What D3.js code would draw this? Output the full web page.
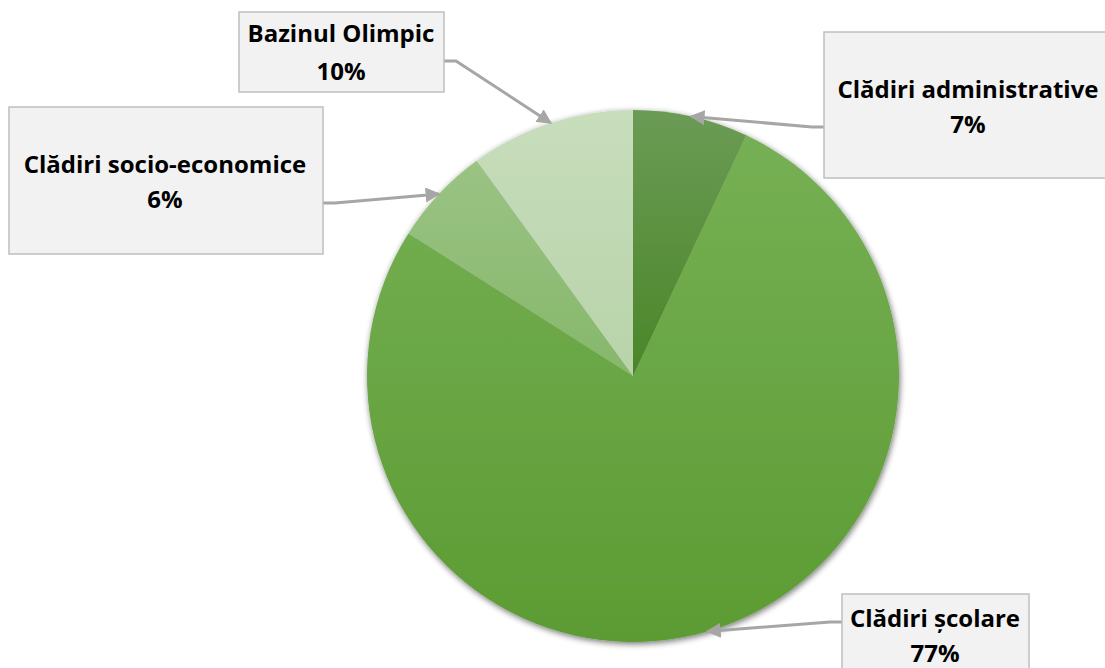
<!DOCTYPE html>
<html>
<head>
<meta charset="utf-8">
<script src="https://cdn.jsdelivr.net/npm/d3@7"></script>
<style>
  html, body { margin: 0; padding: 0; background: #ffffff; }
  svg { display: block; }
  .lbl { font-family: "Open Sans", Lato, sans-serif; font-weight: 700; font-size: 24px; fill: #000; }
</style>
</head>
<body>
<svg id="chart" width="1105" height="668"></svg>
<script>
// Share of buildings by type (percent), clockwise from 12 o'clock
const categories = ["Clădiri administrative", "Clădiri școlare", "Clădiri socio-economice", "Bazinul Olimpic"];
const values = [7, 77, 6, 10];
const valueLabels = ["7%", "77%", "6%", "10%"];

// Slice fills: gradient from lighter (top) to darker (bottom)
const topColors = ["#6b9b55", "#76b054", "#9ac384", "#c8ddbc"];
const bottomColors = ["#4a8628", "#5c9b33", "#86b76a", "#b8d3a9"];

// Callout boxes: box rect, anchor point for the leader, text centre and baselines
const callouts = [
  { box: [824, 32, 300, 146], anchor: [824, 127], cx: 968, lines: [98, 133] },
  { box: [842, 594, 187, 100], anchor: [842, 622], cx: 935, lines: [627, 662] },
  { box: [9, 107, 314, 147], anchor: [323, 203], cx: 165, lines: [173, 208] },
  { box: [239, 12, 205, 80], anchor: [444, 61], cx: 341, lines: [42, 80] }
];

const svg = d3.select("#chart");
const cx = 633, cy = 376, r = 266;

const defs = svg.append("defs");

const shadow = defs.append("filter").attr("id", "pieShadow")
  .attr("x", "-10%").attr("y", "-10%").attr("width", "120%").attr("height", "120%");
shadow.append("feGaussianBlur").attr("in", "SourceAlpha").attr("stdDeviation", 3).attr("result", "b");
shadow.append("feOffset").attr("in", "b").attr("dx", 1).attr("dy", 2).attr("result", "o");
shadow.append("feComponentTransfer").attr("in", "o").attr("result", "s")
  .append("feFuncA").attr("type", "linear").attr("slope", 0.55);
const merge = shadow.append("feMerge");
merge.append("feMergeNode").attr("in", "s");
merge.append("feMergeNode").attr("in", "SourceGraphic");

values.forEach((v, i) => {
  const g = defs.append("linearGradient").attr("id", "grad" + i)
    .attr("x1", 0).attr("y1", 0).attr("x2", 0).attr("y2", 1);
  g.append("stop").attr("offset", "0%").attr("stop-color", topColors[i]);
  g.append("stop").attr("offset", "100%").attr("stop-color", bottomColors[i]);
});

defs.append("marker").attr("id", "arrow")
  .attr("viewBox", "0 0 10 10").attr("refX", 9).attr("refY", 5)
  .attr("markerWidth", 5).attr("markerHeight", 5)
  .attr("orient", "auto")
  .append("path").attr("d", "M0,0 L10,5 L0,10 Z").attr("fill", "#a6a6a6");

const pie = d3.pie().sort(null).value(d => d);
const arcs = pie(values);
const arc = d3.arc().innerRadius(0).outerRadius(r);

const pieG = svg.append("g").attr("transform", `translate(${cx},${cy})`)
  .attr("filter", "url(#pieShadow)");
pieG.selectAll("path").data(arcs).join("path")
  .attr("d", arc)
  .attr("fill", (d, i) => `url(#grad${i})`)
  .attr("stroke", "none");

// Leader lines from each callout box to the slice's outer edge at its mid-angle
arcs.forEach((d, i) => {
  const c = callouts[i];
  const a = (d.startAngle + d.endAngle) / 2;
  const tip = [cx + r * Math.sin(a), cy - r * Math.cos(a)];
  const dir = tip[0] > c.anchor[0] ? 1 : -1;
  const bend = [c.anchor[0] + dir * 12, c.anchor[1]];
  svg.append("path")
    .attr("d", d3.line()([c.anchor, bend, tip]))
    .attr("fill", "none")
    .attr("stroke", "#a6a6a6")
    .attr("stroke-width", 3)
    .attr("marker-end", "url(#arrow)");
});

// Callout boxes and text
categories.forEach((name, i) => {
  const c = callouts[i];
  svg.append("rect")
    .attr("x", c.box[0]).attr("y", c.box[1])
    .attr("width", c.box[2]).attr("height", c.box[3])
    .attr("fill", "#f2f2f2").attr("stroke", "#bfbfbf").attr("stroke-width", 1.5);
  svg.append("text").attr("class", "lbl")
    .attr("x", c.cx).attr("y", c.lines[0]).attr("text-anchor", "middle").text(name);
  svg.append("text").attr("class", "lbl")
    .attr("x", c.cx).attr("y", c.lines[1]).attr("text-anchor", "middle").text(valueLabels[i]);
});
</script>
</body>
</html>
